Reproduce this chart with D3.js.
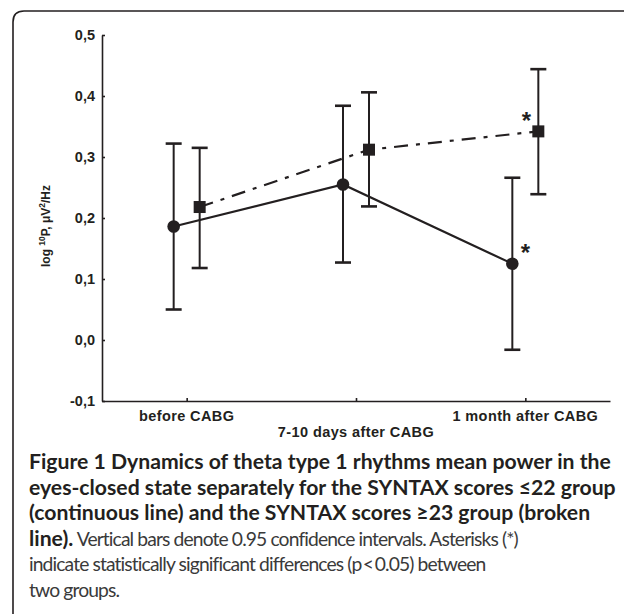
<!DOCTYPE html>
<html>
<head>
<meta charset="utf-8">
<script src="https://cdn.jsdelivr.net/npm/d3@7"></script>
<style>
  html, body { margin: 0; padding: 0; background: #fff; }
  svg { display: block; }
</style>
</head>
<body>
<svg id="chart" width="624" height="614"></svg>
<script>
// ---- data ----
const categories = ["before CABG", "7-10 days after CABG", "1 month after CABG"];
const g1Mean = [0.186, 0.255, 0.125];
const g1Low  = [0.050, 0.127, -0.016];
const g1High = [0.322, 0.384, 0.266];
const g2Mean = [0.218, 0.312, 0.342];
const g2Low  = [0.118, 0.219, 0.239];
const g2High = [0.315, 0.406, 0.444];
const significant = [false, false, true];
const yTicks = [-0.1, 0.0, 0.1, 0.2, 0.3, 0.4, 0.5];
const yTitle = ["log ", "10", "P, μV", "2", "/Hz"];
const captionBold = [
  "Figure 1 Dynamics of theta type 1 rhythms mean power in the",
  "eyes-closed state separately for the SYNTAX scores \u226422 group",
  "(continuous line) and the SYNTAX scores \u226523 group (broken",
  "line)."
];
const captionRegular = [
  " Vertical bars denote 0.95 confidence intervals. Asterisks (*)",
  "indicate statistically significant differences (p\u2009<\u20090.05) between",
  "two groups."
];

const ink = "#231f20";
const chartFont = "'Liberation Sans', Arial, Helvetica, sans-serif";
const svg = d3.select("#chart");

// frame
svg.append("path")
  .attr("d", "M13,614 L13,22 Q13,11 24,11 L624,11")
  .attr("fill", "none").attr("stroke", ink).attr("stroke-width", 1.6);

const x = d3.scalePoint().domain(categories).range([102, 610]).padding(0.5);
const y = d3.scaleLinear().domain([-0.1, 0.5]).range([401, 35]);
const off = 13;

// axes
const yAxis = svg.append("g").attr("transform", "translate(102,0)")
  .call(d3.axisLeft(y).tickValues(yTicks).tickSizeInner(-3).tickSizeOuter(0).tickPadding(7)
    .tickFormat(d => d3.format(".1f")(d).replace(".", ",").replace("\u2212", "-")));
yAxis.selectAll("path,line").attr("stroke", ink).attr("stroke-width", 1.6);
yAxis.selectAll("text").attr("fill", ink)
  .style("font-family", chartFont)
  .style("font-weight", "bold").style("font-size", "14.5px");

const xAxis = svg.append("g").attr("transform", "translate(0,401)")
  .call(d3.axisBottom(x).tickSizeInner(-3).tickSizeOuter(0).tickFormat(""));
xAxis.selectAll("path,line").attr("stroke", ink).attr("stroke-width", 1.6);

// x labels (staggered)
svg.append("g").selectAll("text").data(categories).join("text")
  .attr("x", d => x(d))
  .attr("y", (d, i) => i === 1 ? 437 : 421)
  .attr("text-anchor", "middle")
  .attr("fill", ink)
  .style("font-family", chartFont)
  .style("font-weight", "bold").style("font-size", "14.5px")
  .style("letter-spacing", "0.4px")
  .text(d => d);

// y title
const yt = svg.append("text")
  .attr("transform", "translate(50,226) rotate(-90)")
  .attr("text-anchor", "middle")
  .attr("fill", ink)
  .style("font-family", chartFont)
  .style("font-weight", "bold")
  .style("font-size", "12px");
yTitle.forEach((t, i) => {
  const ts = yt.append("tspan").text(t);
  if (i === 1 || i === 3) ts.attr("baseline-shift", "super").style("font-size", "8.5px");
});

// lines
const line1 = d3.line().x((d, i) => x(categories[i]) - off).y(d => y(d));
const line2 = d3.line().x((d, i) => x(categories[i]) + off).y(d => y(d));
svg.append("path").datum(g1Mean).attr("d", line1)
  .attr("fill", "none").attr("stroke", ink).attr("stroke-width", 2.2);
svg.append("path").datum(g2Mean).attr("d", line2)
  .attr("fill", "none").attr("stroke", ink).attr("stroke-width", 2.2)
  .attr("stroke-dasharray", "14,8,4,8");

// error bars
function errBars(low, high, dx) {
  const g = svg.append("g").attr("stroke", ink).attr("stroke-width", 2);
  categories.forEach((c, i) => {
    const cx = x(c) + dx;
    g.append("line").attr("x1", cx).attr("x2", cx).attr("y1", y(low[i])).attr("y2", y(high[i]));
    [low[i], high[i]].forEach(v => {
      g.append("line").attr("x1", cx - 8).attr("x2", cx + 8).attr("y1", y(v)).attr("y2", y(v))
        .attr("stroke-width", 2.6);
    });
  });
}
errBars(g1Low, g1High, -off);
errBars(g2Low, g2High, off);

// markers
svg.append("g").selectAll("circle").data(g1Mean).join("circle")
  .attr("cx", (d, i) => x(categories[i]) - off).attr("cy", d => y(d)).attr("r", 6.3)
  .attr("fill", ink);
svg.append("g").selectAll("rect").data(g2Mean).join("rect")
  .attr("x", (d, i) => x(categories[i]) + off - 6).attr("y", d => y(d) - 6)
  .attr("width", 12).attr("height", 12).attr("fill", ink);

// asterisks
const star = svg.append("g").attr("fill", ink)
  .style("font-family", chartFont)
  .style("font-weight", "bold").style("font-size", "24px").attr("text-anchor", "middle");
categories.forEach((c, i) => {
  if (!significant[i]) return;
  star.append("text").attr("x", x(c) + off - 12).attr("y", y(g2Mean[i]) - 15 + 13).text("*");
  star.append("text").attr("x", x(c) - off + 13).attr("y", y(g1Mean[i]) - 16 + 13).text("*");
});

// caption
const cap = svg.append("g").style("font-family", "Lato, 'Open Sans', sans-serif");
const lineH = 25.6, y0 = 469, x0 = 29;
const allLines = [];
captionBold.forEach(t => allLines.push([{t, b: true}]));
allLines[3].push({t: captionRegular[0], b: false});
allLines.push([{t: captionRegular[1], b: false}]);
allLines.push([{t: captionRegular[2], b: false}]);
const spans = [];
allLines.forEach((parts, i) => {
  const tx = cap.append("text").attr("x", x0).attr("y", y0 + i * lineH);
  parts.forEach(p => {
    const s = tx.append("tspan").text(p.t)
      .attr("fill", p.b ? ink : "#3a3a3a")
      .style("font-weight", p.b ? "bold" : "normal")
      .style("font-size", "16px");
    spans.push({s, b: p.b, line: i});
  });
});
// fit bold size to first line width
const wb = spans[0].s.node().getComputedTextLength();
const fsB = 16 * 582 / wb;
const fsR = fsB * 0.91;
spans.forEach(o => o.s.style("font-size", (o.b ? fsB : fsR).toFixed(2) + "px"));
// tighten regular text so the fifth line matches its width
const r5 = spans.find(o => o.line === 4).s;
const txt5 = captionRegular[1];
const w5 = r5.node().getComputedTextLength();
const ls = (456 - w5) / txt5.length;
spans.forEach(o => { if (!o.b) o.s.style("letter-spacing", ls.toFixed(3) + "px"); });
</script>
</body>
</html>
